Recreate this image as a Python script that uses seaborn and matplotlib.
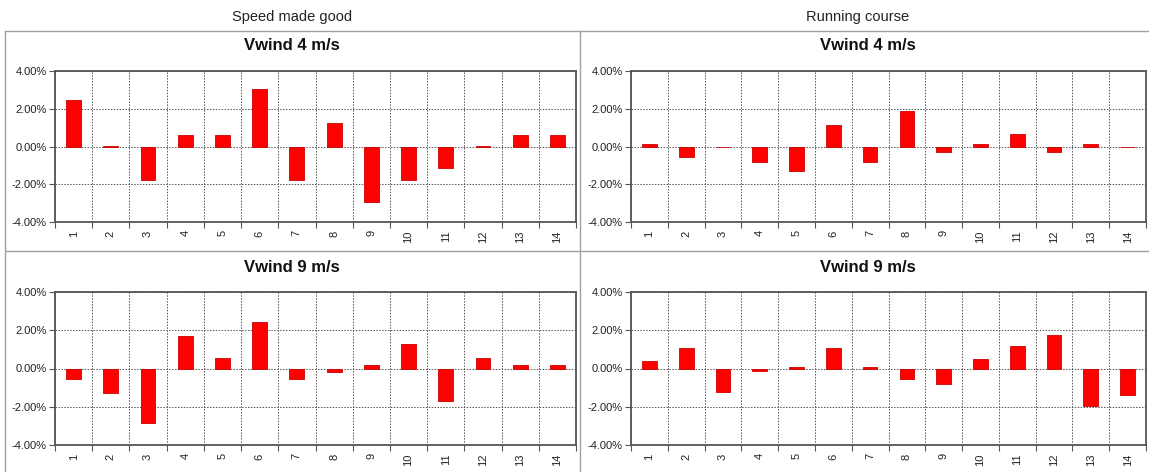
import matplotlib
matplotlib.use("Agg")
import matplotlib.pyplot as plt
import seaborn as sns
import pandas as pd
from matplotlib.ticker import FuncFormatter, FixedLocator
from matplotlib.lines import Line2D

sns.set_theme(style="white")
plt.rcParams["font.family"] = ["Liberation Sans", "DejaVu Sans"]

# Course legs
legs = [str(i) for i in range(1, 15)]

# Relative deviation (%) per leg
smg_4 = [2.45, 0.05, -1.75, 0.6, 0.6, 3.05, -1.75, 1.25, -2.95, -1.75, -1.15, 0.05, 0.6, 0.6]
smg_9 = [-0.55, -1.3, -2.85, 1.7, 0.55, 2.45, -0.55, -0.2, 0.17, 1.3, -1.7, 0.55, 0.17, 0.17]
rc_4 = [0.15, -0.55, -0.05, -0.8, -1.3, 1.15, -0.8, 1.88, -0.3, 0.15, 0.65, -0.3, 0.15, -0.05]
rc_9 = [0.38, 1.05, -1.25, -0.15, 0.1, 1.05, 0.1, -0.57, -0.83, 0.52, 1.18, 1.73, -1.95, -1.37]

group_titles = ["Speed made good", "Running course"]
panel_titles = ["Vwind 4 m/s", "Vwind 9 m/s"]
y_ticks = [-4, -2, 0, 2, 4]

W, H = 1149, 472
fig = plt.figure(figsize=(W / 100, H / 100), dpi=100)


def fx(px):
    return px / W


def fy(py):
    return 1 - py / H


# panel frames
frame_kw = dict(color="#a0a0a0", linewidth=1.0, transform=fig.transFigure)
fig.add_artist(Line2D([fx(5), fx(1149)], [fy(31), fy(31)], **frame_kw))
fig.add_artist(Line2D([fx(5), fx(1149)], [fy(251), fy(251)], **frame_kw))
fig.add_artist(Line2D([fx(5), fx(5)], [fy(31), fy(472)], **frame_kw))
fig.add_artist(Line2D([fx(580), fx(580)], [fy(31), fy(472)], **frame_kw))

fig.text(fx(292), fy(17), group_titles[0], ha="center", va="center", fontsize=10.5, color="#222222")
fig.text(fx(858), fy(17), group_titles[1], ha="center", va="center", fontsize=10.5, color="#222222")

panels = [
    (smg_4, 55, 576, 71, 222, 292, 46, panel_titles[0]),
    (rc_4, 631, 1146, 71, 222, 868, 46, panel_titles[0]),
    (smg_9, 55, 576, 292, 445, 292, 268, panel_titles[1]),
    (rc_9, 631, 1146, 292, 445, 868, 268, panel_titles[1]),
]

for vals, x0, x1, y0, y1, tx, ty, title in panels:
    ax = fig.add_axes([fx(x0), fy(y1), fx(x1 - x0), (y1 - y0) / H])
    df = pd.DataFrame({"leg": legs, "value": vals})
    sns.barplot(data=df, x="leg", y="value", color="#ff0000", saturation=1,
                width=0.4, edgecolor="#d00000", linewidth=0.6, ax=ax)
    ax.set_xlim(-0.5, len(legs) - 0.5)
    ax.set_ylim(-4, 4)
    ax.yaxis.set_major_locator(FixedLocator(y_ticks))
    ax.yaxis.set_major_formatter(FuncFormatter(lambda v, p: f"{v:.2f}%"))
    ax.set_xlabel("")
    ax.set_ylabel("")
    # category boundaries as vertical grid
    bounds = [i + 0.5 for i in range(len(legs) - 1)]
    ax.xaxis.set_minor_locator(FixedLocator([-0.5] + bounds + [len(legs) - 0.5]))
    ax.grid(False)
    ax.yaxis.grid(True, which="major", linestyle=(0, (1.5, 1.5)), color="#555555", linewidth=0.7)
    ax.xaxis.grid(True, which="minor", linestyle=(0, (1.5, 1.5)), color="#555555", linewidth=0.7)
    ax.set_axisbelow(True)
    ax.tick_params(axis="x", which="major", length=0, labelsize=8, labelrotation=90, pad=6, colors="#222222")
    ax.tick_params(axis="x", which="minor", length=4, width=0.8, color="#555555", direction="out")
    ax.tick_params(axis="y", which="major", length=4, width=0.8, color="#555555", direction="out",
                   labelsize=8, pad=2, labelcolor="#222222")
    ax.tick_params(bottom=True, left=True, which="both")
    for side in ax.spines.values():
        side.set_color("#555555")
        side.set_linewidth(1.3)
    fig.text(fx(tx), fy(ty), title, ha="center", va="center", fontsize=12, fontweight="bold", color="#111111")

fig.savefig("out.png", dpi=100, facecolor="white")
